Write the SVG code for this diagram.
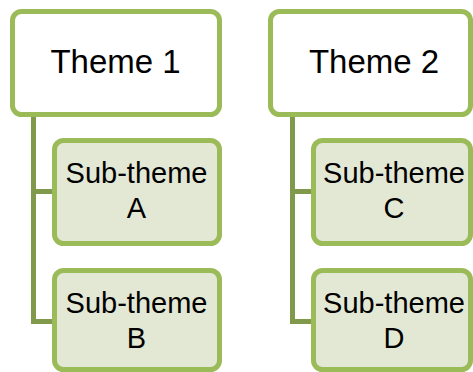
<svg xmlns="http://www.w3.org/2000/svg" width="473" height="372" viewBox="0 0 473 372">
<style>
.theme{fill:#ffffff;stroke:#9bbb59;stroke-width:5}
.sub{fill:#e2e8d4;stroke:#9bbb59;stroke-width:5}
.conn{fill:none;stroke:#80994a;stroke-width:5}
text{font-family:"Liberation Sans",Arial,sans-serif;fill:#000;text-anchor:middle}
.t1{font-size:33px}
.t2{font-size:29px}
</style>
<rect width="473" height="372" fill="#ffffff"/>
<g id="connectors">
<path class="conn" d="M33.5,114.5 V321.5 H54.5 M33.5,191.5 H54.5"/>
<path class="conn" d="M292.5,114.5 V321.5 H313.5 M292.5,191.5 H313.5"/>
</g>
<g id="theme1">
<rect class="theme" x="12.5" y="11.5" width="207" height="103" rx="9"/>
<text class="t1" x="115.5" y="73">Theme 1</text>
</g>
<g id="theme2">
<rect class="theme" x="270.5" y="11.5" width="200" height="103" rx="9"/>
<text class="t1" x="374" y="73">Theme 2</text>
</g>
<g id="subA">
<rect class="sub" x="54.5" y="140.5" width="165" height="103" rx="9"/>
<text class="t2" x="136.5" y="183">Sub-theme</text>
<text class="t2" x="136.5" y="218">A</text>
</g>
<g id="subB">
<rect class="sub" x="54.5" y="270.5" width="165" height="99" rx="9"/>
<text class="t2" x="136.5" y="313">Sub-theme</text>
<text class="t2" x="136.5" y="348">B</text>
</g>
<g id="subC">
<rect class="sub" x="313.5" y="140.5" width="157" height="103" rx="9"/>
<text class="t2" x="394" y="183">Sub-theme</text>
<text class="t2" x="394" y="218">C</text>
</g>
<g id="subD">
<rect class="sub" x="313.5" y="270.5" width="157" height="99" rx="9"/>
<text class="t2" x="394" y="313">Sub-theme</text>
<text class="t2" x="394" y="348">D</text>
</g>
</svg>
